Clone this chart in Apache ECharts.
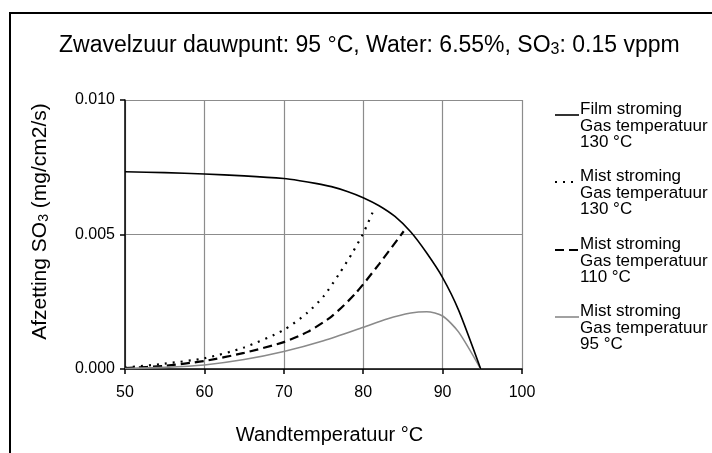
<!DOCTYPE html>
<html><head><meta charset="utf-8">
<script src="https://cdn.jsdelivr.net/npm/echarts@6/dist/echarts.min.js"></script>
<style>html,body{margin:0;padding:0;background:#fff}#c{width:712px;height:453px}</style>
</head><body><div id="c"></div>
<script>
// Data
const filmT   = [50, 55, 60, 65, 70, 72, 74, 76, 78, 80, 82, 84, 86, 88, 90, 92, 94.8];
const filmV   = [0.00733, 0.0073, 0.00725, 0.00718, 0.00708, 0.007, 0.0069, 0.00678, 0.0066, 0.00637, 0.00607, 0.00567, 0.00509, 0.00431, 0.0034, 0.0022, 0];
const mist130T = [50, 55, 60, 65, 70, 73, 75, 77, 78.6, 80, 81.3];
const mist130V = [0.00005, 0.0002, 0.0004, 0.0008, 0.00145, 0.0021, 0.0027, 0.00355, 0.0043, 0.00504, 0.0059];
const mist110T = [50, 55, 60, 65, 70, 73, 76, 79, 82, 85.1];
const mist110V = [0.00003, 0.00012, 0.0003, 0.0006, 0.001, 0.00138, 0.00195, 0.0028, 0.0039, 0.00512];
const mist95T = [50, 55, 60, 65, 70, 75, 80, 83, 86, 88, 90, 92, 94.8];
const mist95V = [0.00002, 0.00006, 0.00015, 0.00035, 0.00065, 0.00105, 0.00155, 0.00186, 0.00208, 0.00213, 0.00197, 0.00138, 0];
const xTicks = [50, 60, 70, 80, 90, 100];
const yTicks = [0.000, 0.005, 0.010];
const legendNames = [
  ['Film stroming', 'Gas temperatuur', '130 °C'],
  ['Mist stroming', 'Gas temperatuur', '130 °C'],
  ['Mist stroming', 'Gas temperatuur', '110 °C'],
  ['Mist stroming', 'Gas temperatuur', '95 °C']
];

const pairs = (xs, ys) => xs.map((x, i) => [x, ys[i]]);
const FONT = '"Liberation Sans", Arial, sans-serif';
const chart = echarts.init(document.getElementById('c'), null, {renderer: 'canvas'});

const styles = [
  {color: '#000', width: 1.6, type: 'solid'},
  {color: '#000', width: 2.2, type: [2, 6]},
  {color: '#000', width: 2.2, type: [9, 5]},
  {color: '#8a8a8a', width: 1.6, type: 'solid'}
];
const datasets = [pairs(filmT, filmV), pairs(mist130T, mist130V), pairs(mist110T, mist110V), pairs(mist95T, mist95V)];

const legendGraphics = [];
const legendTop = [101, 168, 236, 303];
legendNames.forEach((lines, i) => {
  const y0 = legendTop[i];
  legendGraphics.push({
    type: 'line', silent: true,
    shape: {x1: 555, y1: y0 + 14, x2: 579, y2: y0 + 14},
    style: {stroke: styles[i].color, lineWidth: styles[i].width, lineDash: styles[i].type === 'solid' ? null : styles[i].type}
  });
  legendGraphics.push({
    type: 'text', left: 580, top: y0,
    style: {text: lines.join('\n'), font: '17px ' + FONT, fill: '#000', lineHeight: 16.5}
  });
});

const option = {
  animation: false,
  backgroundColor: '#fff',
  title: {
    text: '{n|Zwavelzuur dauwpunt: 95 °C, Water: 6.55%, SO}{s|3}{n|: 0.15 vppm}',
    left: 54, top: 28,
    textStyle: {
      rich: {
        n: {fontFamily: FONT, fontSize: 23, fontWeight: 'normal', color: '#000'},
        s: {fontFamily: FONT, fontSize: 16, fontWeight: 'normal', color: '#000', verticalAlign: 'bottom', padding: [9, 0, 0, 0]}
      }
    }
  },
  grid: {left: 125, right: 190, top: 100, bottom: 84},
  xAxis: {
    type: 'value', min: 50, max: 100, interval: 10,
    name: 'Wandtemperatuur °C', nameLocation: 'middle', nameGap: 56,
    nameTextStyle: {fontFamily: FONT, fontSize: 20, color: '#000', padding: [0, 0, 0, 12]},
    axisLine: {lineStyle: {color: '#000', width: 1.5}},
    axisTick: {show: true, length: 5, lineStyle: {color: '#000', width: 1.5}},
    axisLabel: {fontFamily: FONT, fontSize: 16, color: '#000', margin: 16,
      formatter: v => xTicks.includes(v) ? String(v) : ''},
    splitLine: {show: true, lineStyle: {color: '#8c8c8c', width: 1.2}}
  },
  yAxis: {
    type: 'value', min: 0, max: 0.010, interval: 0.005,
    name: '{n|Afzetting SO}{s|3}{n| (mg/cm2/s)}', nameLocation: 'middle', nameGap: 74,
    nameTextStyle: {
      padding: [0, 0, 0, 26],
      rich: {
        n: {fontFamily: FONT, fontSize: 21, color: '#000'},
        s: {fontFamily: FONT, fontSize: 14, color: '#000', verticalAlign: 'bottom', padding: [8, 0, 0, 0]}
      }
    },
    axisLine: {show: true, lineStyle: {color: '#000', width: 1.5}},
    axisTick: {show: true, length: 5, lineStyle: {color: '#000', width: 1.5}},
    axisLabel: {fontFamily: FONT, fontSize: 16, color: '#000', margin: 10,
      formatter: v => yTicks.some(t => Math.abs(t - v) < 1e-9) ? v.toFixed(3) : ''},
    splitLine: {show: true, lineStyle: {color: '#8c8c8c', width: 1.2}}
  },
  series: datasets.map((d, i) => ({
    type: 'line', name: legendNames[i].join(' '), data: d, smooth: 0.25,
    showSymbol: false, symbol: 'none', silent: true,
    lineStyle: {color: styles[i].color, width: styles[i].width, type: styles[i].type},
    z: i === 0 ? 5 : 3
  })),
  graphic: [
    {type: 'rect', silent: true, shape: {x: 10, y: 13, width: 720, height: 460},
      style: {fill: 'none', stroke: '#000', lineWidth: 2}, z: 100},
    ...legendGraphics
  ]
};
chart.setOption(option);
</script></body></html>
